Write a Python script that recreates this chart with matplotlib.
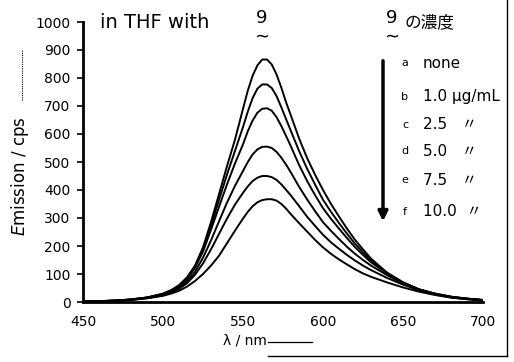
import matplotlib
matplotlib.use("Agg")
import matplotlib.pyplot as plt

wavelength = [450, 460, 470, 480, 490, 500, 505, 510, 515, 520, 525, 530, 535, 540, 545,
              550, 553, 556, 559, 562, 565, 568, 571, 574, 577, 580, 585, 590, 595, 600,
              605, 610, 615, 620, 625, 630, 640, 650, 660, 670, 680, 690, 700]

curve_a = [2, 3, 5, 9, 16, 30, 42, 60, 88, 130, 195, 285, 385, 485, 580,
           690, 755, 808, 845, 866, 866, 848, 812, 765, 712, 665, 585, 515, 455, 400,
           350, 305, 262, 222, 188, 155, 105, 70, 45, 30, 19, 12, 7]
curve_b = [2, 3, 5, 9, 16, 29, 41, 58, 85, 126, 188, 272, 365, 455, 540,
           625, 680, 728, 762, 777, 777, 764, 735, 695, 652, 610, 540, 477, 420, 365,
           322, 282, 244, 208, 178, 148, 104, 70, 45, 30, 19, 12, 7]
curve_c = [2, 3, 5, 9, 16, 28, 40, 56, 82, 122, 180, 258, 340, 420, 495,
           563, 610, 648, 676, 690, 692, 683, 660, 628, 592, 555, 490, 433, 382, 335,
           297, 262, 228, 196, 168, 142, 102, 69, 45, 29, 18, 12, 7]
curve_d = [2, 3, 5, 8, 15, 26, 37, 51, 74, 108, 158, 220, 288, 355, 415,
           468, 500, 527, 545, 554, 555, 550, 536, 515, 490, 462, 412, 367, 325, 285,
           254, 225, 197, 172, 150, 130, 96, 66, 44, 28, 17, 11, 7]
curve_e = [2, 3, 4, 8, 14, 24, 34, 47, 67, 97, 138, 188, 243, 298, 348,
           390, 413, 432, 444, 450, 450, 446, 436, 420, 400, 380, 343, 305, 272, 240,
           213, 190, 168, 148, 130, 114, 86, 62, 42, 27, 16, 10, 6]
curve_f = [2, 3, 4, 7, 13, 22, 30, 40, 55, 75, 100, 130, 165, 210, 255,
           298, 322, 342, 356, 364, 367, 367, 362, 350, 333, 313, 282, 252, 222, 195,
           172, 152, 134, 117, 102, 90, 70, 52, 37, 25, 16, 10, 6]

legend_letters = ["a", "b", "c", "d", "e", "f"]
legend_texts = ["none", "1.0 μg/mL", "2.5   〃", "5.0   〃", "7.5   〃", "10.0  〃"]
y_ticks = [0, 100, 200, 300, 400, 500, 600, 700, 800, 900, 1000]
x_ticks = [450, 500, 550, 600, 650, 700]

W, H = 514, 362
fig = plt.figure(figsize=(W / 100, H / 100), dpi=100)
ax = fig.add_axes([83 / W, 1 - 302 / H, 400 / W, 280 / H])

for c in [curve_a, curve_b, curve_c, curve_d, curve_e, curve_f]:
    ax.plot(wavelength, c, color="black", lw=1.4)

ax.set_xlim(450, 700)
ax.set_ylim(0, 1000)
ax.set_xticks(x_ticks)
ax.set_yticks(y_ticks)
ax.tick_params(axis="x", length=0, pad=9, labelsize=10)
ax.tick_params(axis="y", length=4, width=1.2, pad=5, labelsize=10, direction="out")
for s in ["top", "right"]:
    ax.spines[s].set_visible(False)
for s in ["left", "bottom"]:
    ax.spines[s].set_linewidth(2)

# y label with handwritten line
fig.text(20 / W, 1 - 176 / H, "$\\it{E}$mission / cps", rotation=90, ha="center", va="center",
         fontsize=12)
fig.add_artist(plt.Line2D([22 / W, 22 / W], [1 - 100 / H, 1 - 50 / H], color="black", lw=0.8,
                          linestyle=(0, (1, 1))))
# x label with handwritten line
fig.text(245 / W, 1 - 341 / H, "λ / nm", ha="center", va="center", fontsize=10)
fig.add_artist(plt.Line2D([268 / W, 312 / W], [1 - 342 / H, 1 - 342 / H], color="black", lw=0.9))

hand = ["DejaVu Sans", "Noto Sans CJK JP"]
fig.text(100 / W, 1 - 22 / H, "in THF with", ha="left", va="center", fontsize=14, family=hand)
fig.text(262 / W, 1 - 27 / H, "9", ha="center", va="bottom", fontsize=13, family=hand)
fig.text(262 / W, 1 - 28 / H, "∼", ha="center", va="top", fontsize=13, family=hand)

fig.text(392 / W, 1 - 27 / H, "9", ha="center", va="bottom", fontsize=13, family=hand)
fig.text(392 / W, 1 - 28 / H, "∼", ha="center", va="top", fontsize=13, family=hand)
fig.text(405 / W, 1 - 22 / H, "の濃度", ha="left", va="center", fontsize=12, family=hand)

rows_y = [63, 97, 125, 151, 180, 212]
for letter, txt, yy in zip(legend_letters, legend_texts, rows_y):
    fig.text(405 / W, 1 - yy / H, letter, ha="center", va="center", fontsize=8, family=hand)
    fig.text(423 / W, 1 - yy / H, txt, ha="left", va="center", fontsize=11, family=hand)

fig.add_artist(matplotlib.patches.FancyArrowPatch((383 / W, 1 - 58 / H), (383 / W, 1 - 224 / H),
                                                  transform=fig.transFigure, arrowstyle="-|>",
                                                  mutation_scale=14, lw=2.5, color="black"))

# scan frame
fig.add_artist(plt.Line2D([507 / W, 507 / W], [1 - 356 / H, 1.0], color="black", lw=1))
fig.add_artist(plt.Line2D([268 / W, 507 / W], [1 - 356 / H, 1 - 356 / H], color="black", lw=1))

fig.savefig("out.png", dpi=100)
